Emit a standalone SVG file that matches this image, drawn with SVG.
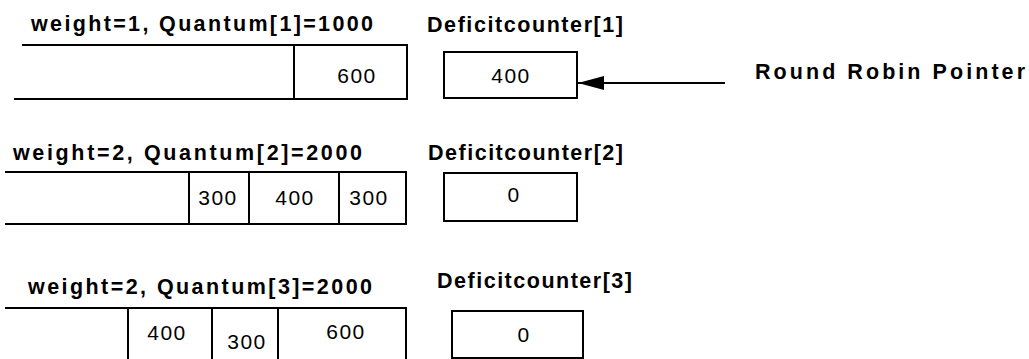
<svg xmlns="http://www.w3.org/2000/svg" width="1029" height="359" viewBox="0 0 1029 359">
  <style>
    .bg { fill: #ffffff; }
    .ln { stroke: #000; stroke-width: 2; fill: none; }
    .box { stroke: #000; stroke-width: 2; fill: #fff; }
    .hdr { font-family: "Liberation Sans", Arial, sans-serif; font-weight: bold; font-size: 21.5px; fill: #000; }
    .lbl { font-family: "Liberation Sans", Arial, sans-serif; font-weight: bold; font-size: 21.5px; fill: #000; }
    .num { font-family: "Liberation Sans", Arial, sans-serif; font-size: 21px; letter-spacing: 1.5px; fill: #000; text-anchor: middle; }
  </style>
  <defs>
    <marker id="arrowhead" viewBox="0 0 26 14" refX="26" refY="7" markerWidth="26" markerHeight="14" markerUnits="userSpaceOnUse" orient="auto">
      <path d="M0,0 L26,7 L0,14 Z" fill="#000"/>
    </marker>
  </defs>

  <rect class="bg" x="0" y="0" width="1029" height="359"/>

  <!-- Queue 1 -->
  <g id="queue1">
    <text class="hdr" x="31" y="31" textLength="342" lengthAdjust="spacing">weight=1, Quantum[1]=1000</text>
    <line class="ln" x1="22" y1="45" x2="407" y2="45"/>
    <line class="ln" x1="14" y1="99" x2="407" y2="99"/>
    <line class="ln" x1="407" y1="44" x2="407" y2="100"/>
    <line class="ln" x1="294" y1="45" x2="294" y2="99"/>
    <text class="num" x="357" y="83">600</text>
  </g>

  <!-- Queue 2 -->
  <g id="queue2">
    <text class="hdr" x="13" y="160" textLength="349" lengthAdjust="spacing">weight=2, Quantum[2]=2000</text>
    <line class="ln" x1="5" y1="172" x2="406" y2="172"/>
    <line class="ln" x1="5" y1="224" x2="406" y2="224"/>
    <line class="ln" x1="406" y1="171" x2="406" y2="225"/>
    <line class="ln" x1="189" y1="172" x2="189" y2="224"/>
    <line class="ln" x1="249" y1="172" x2="249" y2="224"/>
    <line class="ln" x1="339" y1="172" x2="339" y2="224"/>
    <text class="num" x="218" y="205">300</text>
    <text class="num" x="295" y="205">400</text>
    <text class="num" x="369" y="205">300</text>
  </g>

  <!-- Queue 3 -->
  <g id="queue3">
    <text class="hdr" x="28" y="294" textLength="344" lengthAdjust="spacing">weight=2, Quantum[3]=2000</text>
    <line class="ln" x1="5" y1="308" x2="406" y2="308"/>
    <line class="ln" x1="406" y1="307" x2="406" y2="359"/>
    <line class="ln" x1="128" y1="308" x2="128" y2="359"/>
    <line class="ln" x1="212" y1="308" x2="212" y2="359"/>
    <line class="ln" x1="278" y1="308" x2="278" y2="359"/>
    <text class="num" x="167" y="340">400</text>
    <text class="num" x="247" y="349">300</text>
    <text class="num" x="346" y="339">600</text>
  </g>

  <!-- Deficit counters -->
  <g id="counter1">
    <text class="hdr" x="427" y="32" textLength="196" lengthAdjust="spacing">Deficitcounter[1]</text>
    <rect class="box" x="444" y="52" width="133" height="46"/>
    <text class="num" x="511" y="83">400</text>
  </g>

  <g id="counter2">
    <text class="hdr" x="428" y="160" textLength="195" lengthAdjust="spacing">Deficitcounter[2]</text>
    <rect class="box" x="444" y="173" width="133" height="48"/>
    <text class="num" x="514" y="202">0</text>
  </g>

  <g id="counter3">
    <text class="hdr" x="437" y="288" textLength="195" lengthAdjust="spacing">Deficitcounter[3]</text>
    <rect class="box" x="452" y="311" width="131" height="47"/>
    <text class="num" x="524" y="342">0</text>
  </g>

  <!-- Round robin pointer label -->
  <g id="pointer">
    <text class="lbl" x="755" y="79" textLength="270" lengthAdjust="spacing">Round Robin Pointer</text>
  </g>

  <!-- Connectors -->
  <g id="connectors">
    <line class="ln" x1="725" y1="83" x2="578" y2="83" marker-end="url(#arrowhead)"/>
  </g>
</svg>
